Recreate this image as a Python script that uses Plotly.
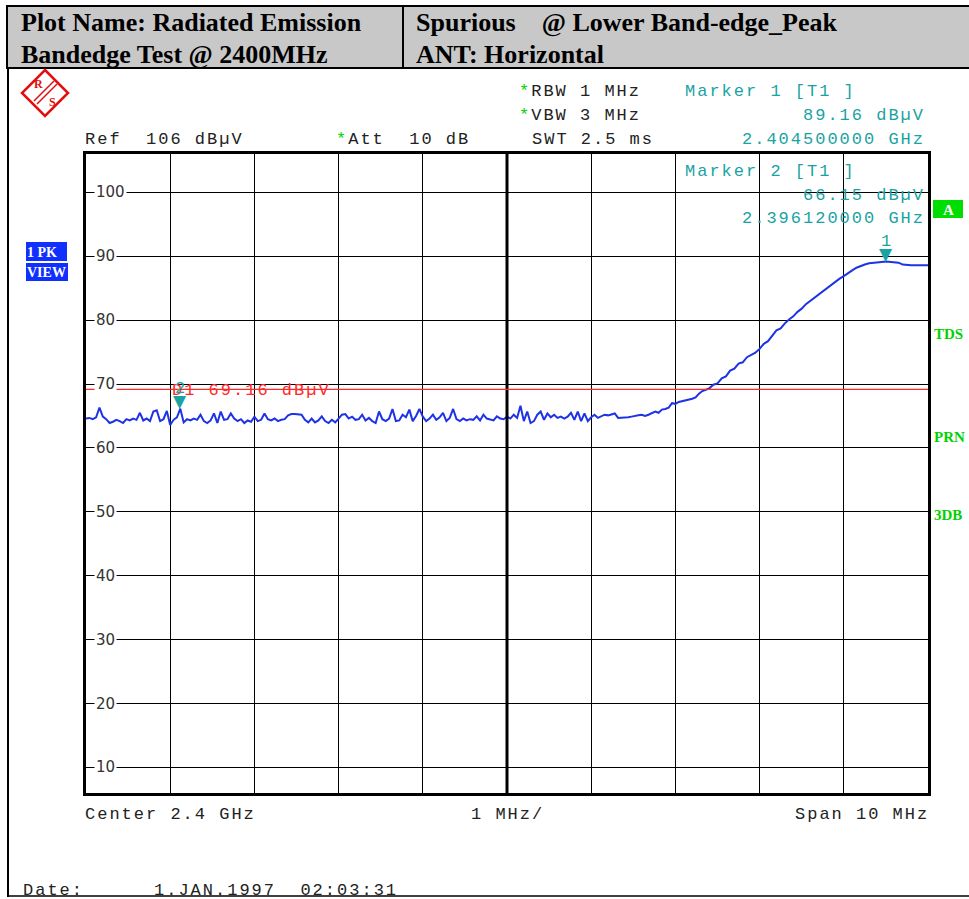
import numpy as np
import plotly.graph_objects as go

# ---------------- data ----------------
# sweep, flat part: 2395.00 MHz .. 2402.36 MHz, 0.04 MHz step
FLAT_START_MHZ = 2395.0
FLAT_STEP_MHZ = 0.04
flat_level = [
    64.6, 64.7, 64.5, 64.8, 66.3, 64.9, 64.5, 63.9, 64.1, 64.4,
    64.2, 63.9, 64.5, 64.3, 64.6, 64.4, 65.5, 64.3, 64.6, 64.2,
    65.7, 65.9, 64.2, 64.5, 65.8, 63.6, 64.4, 64.8, 66.15, 64.0,
    64.5, 64.3, 64.6, 64.4, 65.2, 64.2, 63.9, 64.3, 65.4, 63.9,
    65.7, 64.4, 64.5, 65.4, 64.6, 64.2, 64.5, 63.9, 64.3, 64.1,
    64.9, 64.2, 64.4, 65.4, 64.5, 64.3, 64.6, 64.2, 64.4, 64.5,
    65.1, 65.3, 65.3, 65.3, 65.2, 64.4, 64.0, 64.6, 64.0, 64.3,
    64.95, 64.2, 63.9, 64.4, 64.0, 64.6, 65.2, 65.3, 64.6, 64.9,
    64.4, 64.5, 65.2, 64.3, 64.7, 64.2, 63.9, 65.7, 64.5, 64.2,
    64.6, 66.1, 64.2, 64.3, 65.2, 64.8, 66.0, 64.2, 65.0, 66.1,
    64.9, 64.2, 64.6, 65.2, 64.4, 64.8, 65.5, 64.2, 64.7, 66.1,
    64.5, 64.2, 64.6, 64.3, 64.5, 64.4, 64.95, 64.3, 65.2, 64.6,
    64.4, 64.3, 64.95, 64.6, 64.5, 64.9, 64.6, 65.2, 64.7, 66.6,
    64.2, 65.7, 63.9, 64.2, 65.2, 65.7, 64.4, 65.4, 64.8, 65.2,
    64.7, 64.9, 64.6, 64.9, 65.5, 64.4, 65.7, 64.2, 65.4, 64.2,
    64.8, 65.2, 64.7, 65.0, 65.2, 65.1, 65.2, 65.4, 64.7, 64.7,
    64.7, 64.8, 64.9, 64.95, 65.1, 65.2, 65.0, 65.2, 65.5, 65.7,
    65.5, 66.0, 66.1, 66.3, 67.0, 66.9, 67.2, 67.3, 67.4, 67.6,
    67.7, 67.9, 68.5, 68.9, 69.1,
]
# sweep, band-edge rise: 2402.40 MHz .. 2405.00 MHz, 0.05 MHz step
RISE_START_MHZ = 2402.40
RISE_STEP_MHZ = 0.05
rise_level = [
    69.3, 69.9, 70.1, 70.9, 71.2, 72.1, 72.4, 73.2, 73.4, 74.2, 74.6, 74.9,
    75.5, 76.3, 76.7, 77.6, 78.4, 78.7, 79.5, 80.1, 80.6, 81.3,
    81.8, 82.5, 83.0, 83.5, 84.1, 84.5, 85.1, 85.6, 86.0, 86.5,
    86.9, 87.4, 87.8, 88.2, 88.5, 88.7, 88.9, 89.0, 89.1, 89.1,
    89.16, 89.1, 89.1, 89.0, 88.7, 88.6, 88.6, 88.6, 88.6, 88.6,
    88.6,
]

ref_level = 106
y_bottom = 6
y_ticks = [10, 20, 30, 40, 50, 60, 70, 80, 90, 100]
center_mhz = 2400.0
span_mhz = 10.0
div_mhz = 1.0
display_line_d1 = 69.16
marker1_freq_mhz, marker1_level = 2404.5, 89.16
marker2_freq_mhz, marker2_level = 2396.12, 66.15

freq = np.concatenate([
    np.round(FLAT_START_MHZ + FLAT_STEP_MHZ * np.arange(len(flat_level)), 3),
    np.round(RISE_START_MHZ + RISE_STEP_MHZ * np.arange(len(rise_level)), 3),
])
level = flat_level + rise_level

# ---------------- layout helpers (pixel -> paper) ----------------
FW, FH = 969, 899
L, R, T, B = 86, 928, 154, 793
PW, PH = R - L, B - T


def X(px):
    return (px - L) / PW


def Y(py):
    return (B - py) / PH


MONO = "Liberation Mono"
SERIF = "Liberation Serif"
TEAL = "#1AA3A3"
GREEN = "#00D200"
TXT = "#222222"
RED_LOGO = "#E01010"


def ls(t, sp=2):
    return f'<span style="letter-spacing:{sp}px">{t}</span>'


def pann(text, px, py, xanchor="left", size=17, color=TXT, family=MONO, weight="normal", **kw):
    return dict(text=text, x=X(px), y=Y(py), xref="paper", yref="paper",
                xanchor=xanchor, yanchor="middle", showarrow=False,
                font=dict(family=family, size=size, color=color, weight=weight), **kw)


star = f'<span style="color:{GREEN}">*</span>'

fig = go.Figure()
fig.add_trace(go.Scatter(x=freq, y=level, mode="lines",
                         line=dict(color="#1E32E6", width=2), hoverinfo="skip",
                         showlegend=False))

ann = []
# header
HDR = dict(size=26, color="black", family=SERIF, weight="bold")
ann.append(pann("Plot Name: Radiated Emission", 19, 23, **HDR))
ann.append(pann("Bandedge Test @ 2400MHz", 19, 55, **HDR))
ann.append(pann("Spurious\u00a0\u00a0\u00a0 @ Lower Band-edge_Peak", 414, 23, **HDR))
ann.append(pann("ANT: Horizontal", 414, 55, **HDR))

# instrument settings
ann.append(pann(ls(star + "RBW 1 MHz"), 517, 92))
ann.append(pann(ls(star + "VBW 3 MHz"), 517, 115))
ann.append(pann(ls(f"Ref\u00a0\u00a0{ref_level} dBµV"), 83, 139))
ann.append(pann(ls(star + "Att\u00a0\u00a010 dB"), 334, 139))
ann.append(pann(ls("SWT 2.5 ms"), 530, 139))

# marker readouts
ann.append(pann(ls("Marker 1 [T1 ]"), 683, 92, color=TEAL))
ann.append(pann(ls(f"{marker1_level:.2f} dBµV"), 927, 115, xanchor="right", color=TEAL))
ann.append(pann(ls(f"{marker1_freq_mhz/1000:.9f} GHz"), 927, 139, xanchor="right", color=TEAL))
ann.append(pann(ls("Marker 2 [T1 ]"), 683, 172, color=TEAL))
ann.append(pann(ls(f"{marker2_level:.2f} dBµV"), 927, 195, xanchor="right", color=TEAL))
ann.append(pann(ls(f"{marker2_freq_mhz/1000:.9f} GHz"), 927, 218, xanchor="right", color=TEAL))

# bottom labels
ann.append(pann(ls(f"Center {center_mhz/1000:g} GHz"), 83, 814))
ann.append(pann(ls(f"{div_mhz:g} MHz/"), 507, 814, xanchor="center"))
ann.append(pann(ls(f"Span {span_mhz:g} MHz"), 931, 814, xanchor="right"))
ann.append(pann(ls("Date:"), 21, 890))
ann.append(pann(ls("1.JAN.1997\u00a0\u00a002:03:31"), 152, 890))

# side indicators
ann.append(pann("1 PK", 25, 252, size=14, color="white", family=SERIF, weight="bold"))
ann.append(pann("VIEW", 25, 272, size=14, color="white", family=SERIF, weight="bold"))
ann.append(pann("A", 948, 210, xanchor="center", size=15, color="white", family=SERIF, weight="bold"))
ann.append(pann("TDS", 932, 334, size=15, color=GREEN, family=SERIF, weight="bold"))
ann.append(pann("PRN", 932, 437, size=15, color=GREEN, family=SERIF, weight="bold"))
ann.append(pann("3DB", 932, 515, size=15, color=GREEN, family=SERIF, weight="bold"))

# logo letters
ann.append(pann("R", 38, 84, xanchor="center", size=12, color=RED_LOGO, family=SERIF, weight="bold"))
ann.append(pann("S", 52, 102, xanchor="center", size=12, color=RED_LOGO, family=SERIF, weight="bold"))

# y tick labels inside the grid
for v in y_ticks:
    ann.append(dict(text=str(v), x=X(94), y=v, xref="paper", yref="y",
                    xanchor="left", yanchor="middle", showarrow=False,
                    bgcolor="white", borderpad=1,
                    font=dict(family="DejaVu Sans", size=15, color="#333333")))

# display line label
ann.append(dict(text=ls(f"D1 {display_line_d1:.2f} dBµV"), x=2396.0, y=display_line_d1,
                xref="x", yref="y", xanchor="left", yanchor="middle", yshift=-1,
                showarrow=False, font=dict(family=MONO, size=17, color="#FF2A2A")))

# marker symbols
for num, mf, ml in [(1, marker1_freq_mhz, marker1_level), (2, marker2_freq_mhz, marker2_level)]:
    ann.append(dict(text="▼", x=mf, y=ml, xref="x", yref="y", xanchor="center",
                    yanchor="bottom", yshift=-4, showarrow=False,
                    font=dict(family="DejaVu Sans", size=17, color=TEAL)))
    ann.append(dict(text=str(num), x=mf, y=ml, xref="x", yref="y", xanchor="center",
                    yanchor="bottom", yshift=9, showarrow=False,
                    font=dict(family=MONO, size=17, color=TEAL)))

shapes = []
# header box
shapes.append(dict(type="rect", xref="paper", yref="paper", x0=X(7), x1=X(980), y0=Y(68), y1=Y(6),
                   fillcolor="#C8C8C8", line=dict(color="black", width=2), layer="below"))
shapes.append(dict(type="line", xref="paper", yref="paper", x0=X(403), x1=X(403), y0=Y(68), y1=Y(6),
                   line=dict(color="black", width=2)))
# outer frame
shapes.append(dict(type="line", xref="paper", yref="paper", x0=X(8), x1=X(8), y0=Y(897), y1=Y(68),
                   line=dict(color="black", width=2)))
shapes.append(dict(type="line", xref="paper", yref="paper", x0=X(8), x1=X(980), y0=Y(896), y1=Y(896),
                   line=dict(color="black", width=1.5)))
# centre division emphasised
shapes.append(dict(type="line", xref="x", yref="paper", x0=center_mhz, x1=center_mhz, y0=0, y1=1,
                   line=dict(color="black", width=3)))
# display line D1
shapes.append(dict(type="line", xref="paper", yref="y", x0=0, x1=1, y0=display_line_d1, y1=display_line_d1,
                   line=dict(color="#FF2A2A", width=1.2)))
# trace info boxes
shapes.append(dict(type="rect", xref="paper", yref="paper", x0=X(26), x1=X(67), y0=Y(261), y1=Y(242),
                   fillcolor="#1030FF", line=dict(width=0), layer="below"))
shapes.append(dict(type="rect", xref="paper", yref="paper", x0=X(26), x1=X(68), y0=Y(281), y1=Y(263),
                   fillcolor="#1030FF", line=dict(width=0), layer="below"))
shapes.append(dict(type="rect", xref="paper", yref="paper", x0=X(933), x1=X(963), y0=Y(218), y1=Y(200),
                   fillcolor="#00DD00", line=dict(width=0), layer="below"))


# R&S logo
def pth(pts, close=True):
    s = "M " + " L ".join(f"{X(a):.5f},{Y(b):.5f}" for a, b in pts)
    return s + (" Z" if close else "")


shapes.append(dict(type="path", xref="paper", yref="paper",
                   path=pth([(45, 70), (68, 93), (45, 116), (22, 93)]),
                   line=dict(color=RED_LOGO, width=2.5)))
shapes.append(dict(type="path", xref="paper", yref="paper",
                   path=pth([(34, 101), (54, 81)], close=False),
                   line=dict(color=RED_LOGO, width=1.5)))
shapes.append(dict(type="path", xref="paper", yref="paper",
                   path=pth([(37, 104), (57, 84)], close=False),
                   line=dict(color=RED_LOGO, width=1.5)))

fig.update_layout(
    width=FW, height=FH,
    margin=dict(l=L, r=FW - R, t=T, b=FH - B),
    paper_bgcolor="white", plot_bgcolor="white",
    annotations=ann, shapes=shapes, showlegend=False,
    xaxis=dict(range=[center_mhz - span_mhz / 2, center_mhz + span_mhz / 2],
               tick0=center_mhz - span_mhz / 2, dtick=div_mhz,
               showgrid=True, gridcolor="black", gridwidth=1,
               showline=True, mirror=True, linecolor="black", linewidth=3,
               zeroline=False, showticklabels=False, ticks=""),
    yaxis=dict(range=[y_bottom, ref_level], tickvals=y_ticks,
               showgrid=True, gridcolor="black", gridwidth=1,
               showline=True, mirror=True, linecolor="black", linewidth=3,
               zeroline=False, showticklabels=False, ticks=""),
)

fig.write_html("out.html", config={"displayModeBar": False},
               post_script="document.body.style.margin='0';document.body.style.overflow='hidden';")
